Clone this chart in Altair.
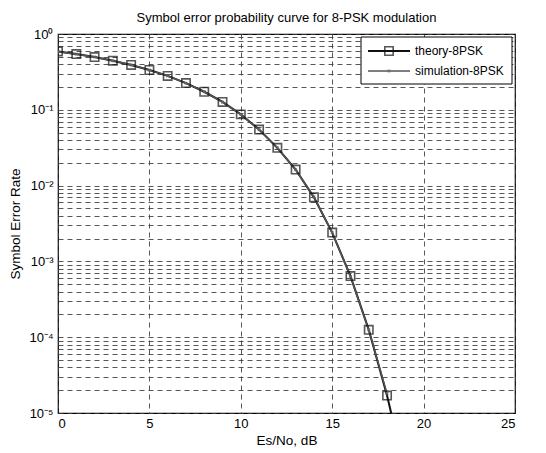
import altair as alt
import pandas as pd

# ---- data ----
snr_db = list(range(0, 19))
theory_ser = [0.588, 0.543, 0.496, 0.445, 0.391, 0.335, 0.280, 0.225, 0.173, 0.127,
              0.087, 0.0548, 0.0315, 0.0163, 0.0070, 0.0024, 6.4e-4, 1.25e-4, 1.7e-5]
# theory curve continues below the axis bottom (clipped)
theory_tail_x = [19]
theory_tail_y = [1.6e-6]
sim_ser = [0.585, 0.541, 0.497, 0.444, 0.392, 0.334, 0.281, 0.224, 0.174, 0.126,
           0.0872, 0.0546, 0.0316, 0.0162, 0.0071, 0.0024, 6.3e-4, 1.25e-4, 1.8e-5]
legend_labels = ["theory-8PSK", "simulation-8PSK"]
x_ticks = [0, 5, 10, 15, 20, 25]
y_grid = [d * 10.0 ** k for k in range(-5, 0) for d in range(1, 10)] + [1.0]

FONT = "Liberation Sans"
W, H = 457, 379

theory_df = pd.DataFrame({"snr": snr_db + theory_tail_x, "ser": theory_ser + theory_tail_y})
theory_pts = pd.DataFrame({"snr": snr_db, "ser": theory_ser})
sim_df = pd.DataFrame({"snr": snr_db, "ser": sim_ser})

xscale = alt.Scale(domain=[0, 25], nice=False, zero=False)
yscale = alt.Scale(type="log", domain=[1e-5, 1], nice=False)

label_expr = ("abs(log(datum.value)/LN10 - round(log(datum.value)/LN10)) < 0.01 ? "
              "['10⁻⁵','10⁻⁴','10⁻³','10⁻²','10⁻¹','10⁰'][round(log(datum.value)/LN10)+5] : ''")

grid_kw = dict(grid=True, gridColor="#3a3a3a", gridDash=[5, 4], gridWidth=1, gridOpacity=0.85,
               ticks=False, domain=False, labelFont=FONT, titleFont=FONT,
               labelFontSize=13, titleFontSize=13.5, titleFontWeight="normal",
               labelColor="black", titleColor="black")

xenc = alt.X("snr:Q", scale=xscale,
             axis=alt.Axis(values=x_ticks, title="Es/No, dB", labelPadding=4, titlePadding=3,
                           **grid_kw))
yenc = alt.Y("ser:Q", scale=yscale,
             axis=alt.Axis(values=y_grid, labelExpr=label_expr, title="Symbol Error Rate",
                           labelOverlap=False, labelPadding=5, titlePadding=6, **grid_kw))

theory_line = alt.Chart(theory_df).mark_line(color="#111111", strokeWidth=2, clip=True).encode(
    x=xenc, y=yenc)
sim_line = alt.Chart(sim_df).mark_line(color="#555555", strokeWidth=1.5, clip=True).encode(
    x="snr:Q", y="ser:Q")
theory_mark = alt.Chart(theory_pts).mark_point(shape="square", size=70, color="#111111",
                                               strokeWidth=1.6, filled=False, clip=True).encode(
    x="snr:Q", y="ser:Q")
sim_mark = alt.Chart(sim_df).mark_point(shape="cross", size=14, color="#666666",
                                        strokeWidth=1, filled=True, clip=True, angle=45).encode(
    x="snr:Q", y="ser:Q")

# ---- legend box (upper right, drawn in pixel space) ----
one = pd.DataFrame({"a": [0]})
lx0, lx1, ly0, ly1 = 303, 454, 3, 50
box = alt.Chart(one).mark_rect(fill="white", stroke="black", strokeWidth=1).encode(
    x=alt.value(lx0), x2=alt.value(lx1), y=alt.value(ly0), y2=alt.value(ly1))
r1 = alt.Chart(one).mark_rule(color="#111111", strokeWidth=2).encode(
    x=alt.value(310), x2=alt.value(352), y=alt.value(17))
r2 = alt.Chart(one).mark_rule(color="#555555", strokeWidth=1.5).encode(
    x=alt.value(310), x2=alt.value(352), y=alt.value(37))
m1 = alt.Chart(one).mark_point(shape="square", size=70, color="#111111", strokeWidth=1.6,
                               filled=False).encode(x=alt.value(331), y=alt.value(17))
m2 = alt.Chart(one).mark_point(shape="cross", size=14, color="#666666", filled=True,
                               angle=45).encode(x=alt.value(331), y=alt.value(37))
t1 = alt.Chart(one).mark_text(text=legend_labels[0], align="left", baseline="middle",
                              font=FONT, fontSize=12, color="black").encode(
    x=alt.value(357), y=alt.value(17))
t2 = alt.Chart(one).mark_text(text=legend_labels[1], align="left", baseline="middle",
                              font=FONT, fontSize=12, color="black").encode(
    x=alt.value(357), y=alt.value(37))

chart = alt.layer(theory_line, sim_line, theory_mark, sim_mark,
                  box, r1, r2, m1, m2, t1, t2).properties(
    width=W, height=H,
    background="white",
    title=alt.TitleParams("Symbol error probability curve for 8-PSK modulation",
                          font=FONT, fontSize=13, fontWeight="normal", offset=3,
                          anchor="middle", color="black"),
    autosize=alt.AutoSizeParams(type="none"),
    padding={"left": 50, "top": 26, "right": 20, "bottom": 38},
).configure_view(stroke="black", strokeWidth=1.2)

chart.save("out.html", embed_options={"renderer": "svg", "actions": False})
